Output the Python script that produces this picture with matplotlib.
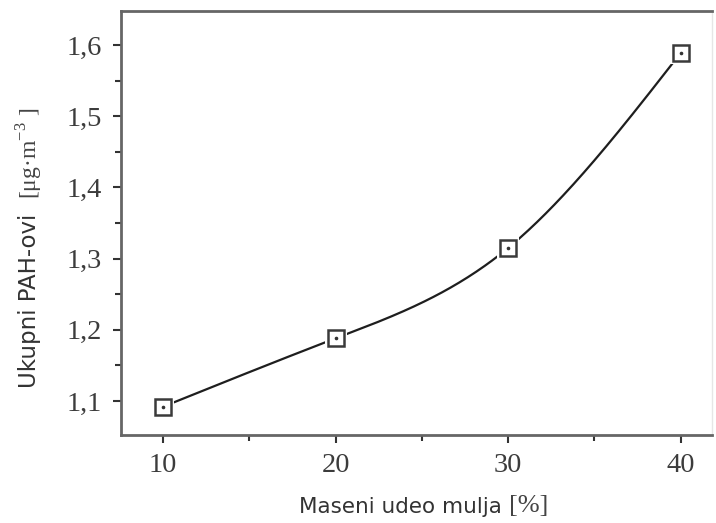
import numpy as np
import matplotlib
matplotlib.use("Agg")
import matplotlib.pyplot as plt
from matplotlib.ticker import MultipleLocator, FuncFormatter

# data
mass_fraction = [10, 20, 30, 40]
total_pah = [1.092, 1.188, 1.315, 1.589]
x_ticks = [10, 20, 30, 40]
y_ticks = [1.1, 1.2, 1.3, 1.4, 1.5, 1.6]
x_label = "Maseni udeo mulja"
x_unit = "[%]"
y_label = "Ukupni PAH-ovi"
y_unit = "[μg·m$^{\\mathregular{-3}}$ ]"


def natural_spline(x, y, n=300):
    x = np.asarray(x, float); y = np.asarray(y, float)
    k = len(x)
    h = np.diff(x)
    A = np.zeros((k, k)); b = np.zeros(k)
    A[0, 0] = A[-1, -1] = 1
    for i in range(1, k - 1):
        A[i, i - 1] = h[i - 1]
        A[i, i] = 2 * (h[i - 1] + h[i])
        A[i, i + 1] = h[i]
        b[i] = 3 * ((y[i + 1] - y[i]) / h[i] - (y[i] - y[i - 1]) / h[i - 1])
    c = np.linalg.solve(A, b)
    xs = np.linspace(x[0], x[-1], n)
    ys = np.empty_like(xs)
    for j, xv in enumerate(xs):
        i = min(np.searchsorted(x, xv, side="right") - 1, k - 2)
        dx = xv - x[i]
        bi = (y[i + 1] - y[i]) / h[i] - h[i] * (2 * c[i] + c[i + 1]) / 3
        di = (c[i + 1] - c[i]) / (3 * h[i])
        ys[j] = y[i] + bi * dx + c[i] * dx ** 2 + di * dx ** 3
    return xs, ys


fig = plt.figure(figsize=(7.16, 5.23), dpi=100)
ax = fig.add_axes([0.169, 0.168, 0.825, 0.811])

xs, ys = natural_spline(mass_fraction, total_pah)
ax.plot(xs, ys, color="#1e1e1e", lw=1.6, zorder=2)
ax.plot(mass_fraction, total_pah, ls="none", marker="s", ms=16, mfc="white",
        mec="white", mew=0, zorder=3)
ax.plot(mass_fraction, total_pah, ls="none", marker="s", ms=11, mfc="white",
        mec="#3a3a3a", mew=1.8, zorder=4)
ax.plot(mass_fraction, total_pah, ls="none", marker="o", ms=1.6, mfc="#333333",
        mec="#333333", zorder=5)

ax.set_xlim(7.56, 41.8)
ax.set_ylim(1.052, 1.648)
ax.set_xticks(x_ticks)
ax.set_yticks(y_ticks)
ax.xaxis.set_minor_locator(MultipleLocator(5))
ax.yaxis.set_minor_locator(MultipleLocator(0.05))
ax.yaxis.set_major_formatter(FuncFormatter(lambda v, p: f"{v:.1f}".replace(".", ",")))

for s in ["left", "bottom", "top"]:
    ax.spines[s].set_color("#666666")
    ax.spines[s].set_linewidth(2)
ax.spines["right"].set_color("#e6e6e6")
ax.spines["right"].set_linewidth(1)

ax.tick_params(which="both", direction="out", color="#333333", width=1.5)
ax.tick_params(which="major", length=6, labelsize=20.5, labelcolor="#3c3c3c")
ax.tick_params(axis="y", which="major", pad=8)
ax.tick_params(axis="x", which="major", pad=7)
ax.tick_params(which="minor", length=4)
ax.tick_params(top=False, right=False, which="both")
for lab in ax.get_xticklabels() + ax.get_yticklabels():
    lab.set_fontfamily("Liberation Serif")

# axis labels: sans part + serif unit part
fig.canvas.draw()
r = fig.canvas.get_renderer()
t1 = fig.text(299 / 716, 1 - 507 / 523, x_label + " ", family="DejaVu Sans", fontsize=15.5,
              color="#333333", ha="left", va="center")
bb = t1.get_window_extent(r)
fig.text(bb.x1 / fig.bbox.width, 1 - 506 / 523, x_unit, family="Liberation Serif", fontsize=19,
         color="#444444", ha="left", va="center")

t2 = fig.text(30 / 716, 1 - 388 / 523, y_label + "  ", family="DejaVu Sans", fontsize=16.5,
              color="#333333", ha="center", va="bottom", rotation=90)
bb2 = t2.get_window_extent(r)
fig.text(30 / 716, bb2.y1 / fig.bbox.height, y_unit, family="Liberation Serif", fontsize=17,
         color="#444444", ha="center", va="bottom", rotation=90)

fig.savefig("out.png", dpi=100, facecolor="white")
